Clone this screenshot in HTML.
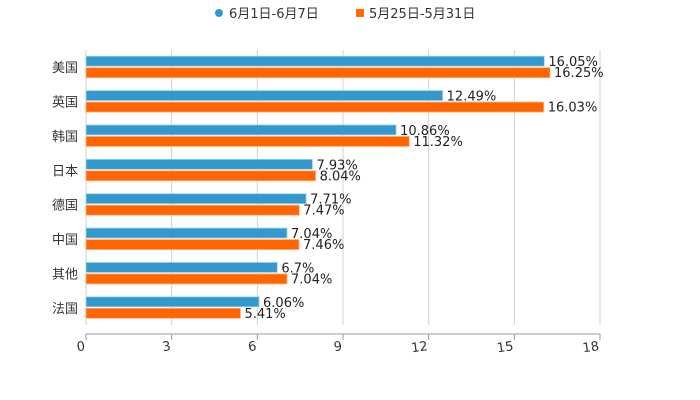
<!DOCTYPE html>
<html><head><meta charset="utf-8">
<style>
html,body{margin:0;padding:0;background:#fff;width:700px;height:400px;overflow:hidden}
svg text{font-family:"DejaVu Sans","Liberation Sans","Noto Sans CJK SC",sans-serif}
</style></head>
<body>
<svg id="chart" width="700" height="400" xmlns="http://www.w3.org/2000/svg">
<g id="legend">
  <g>
    <circle cx="219" cy="13" r="4" fill="#3399cc"/>
    <text x="229" y="18" font-size="13" fill="#333">6月1日-6月7日</text>
  </g>
  <g>
    <rect x="356" y="9" width="8" height="8" rx="1" fill="#ff6600"/>
    <text x="369" y="18" font-size="13" fill="#333">5月25日-5月31日</text>
  </g>
</g>
<g id="grid"></g>
<g id="bars"></g>
<g id="axes"></g>
</svg>
<script>
const categories = ["美国","英国","韩国","日本","德国","中国","其他","法国"];
const seriesJun = [16.05,12.49,10.86,7.93,7.71,7.04,6.7,6.06];
const seriesMay = [16.25,16.03,11.32,8.04,7.47,7.46,7.04,5.41];
const xTicks = [0,3,6,9,12,15,18];

const NS="http://www.w3.org/2000/svg";
const plotX0=86,plotX1=600,xMax=18,plotTop=50,plotBottom=325,axisY=334;
const xs=v=>plotX0+(v/xMax)*(plotX1-plotX0);
const band=(plotBottom-plotTop)/categories.length;
const ys=i=>plotTop+band*i+band/2;
function mk(t,a,p){const e=document.createElementNS(NS,t);for(const k in a)e.setAttribute(k,a[k]);p.appendChild(e);return e;}
const grid=document.getElementById('grid'),bars=document.getElementById('bars'),axes=document.getElementById('axes');
xTicks.forEach(t=>{
  const l=mk('line',{x1:xs(t),x2:xs(t),y1:plotTop,y2:plotBottom,stroke:'#d0d0d0','stroke-width':1},grid);
  
  
  const tk=mk('line',{x1:xs(t),x2:xs(t),y1:axisY,y2:axisY+6,stroke:'#999','stroke-width':1},axes);
  
  
  const tx=mk('text',{x:xs(t)-1,y:axisY+16,'font-size':13,fill:'#333','text-anchor':'end',transform:`rotate(-8 ${xs(t)} ${axisY+12})`},axes);
  tx.textContent=t;
  
  
});
const ax=mk('line',{x1:plotX0,x2:plotX1,y1:axisY,y2:axisY,stroke:'#999','stroke-width':1},axes);


categories.forEach((c,i)=>{
  const cy=ys(i);
  const lb=mk('text',{x:78,y:cy+5,'font-size':13,fill:'#333','text-anchor':'end'},axes);
  lb.textContent=c;
  
  
  const b1=mk('rect',{x:plotX0,y:cy-11,width:xs(seriesJun[i])-plotX0,height:10,fill:'#3399cc',stroke:'#a8d4ea','stroke-width':0.8},bars);
  
  
  const b2=mk('rect',{x:plotX0,y:cy+0.5,width:xs(seriesMay[i])-plotX0,height:10,fill:'#ff6600',stroke:'#ffb080','stroke-width':0.8},bars);
  
  
  const t1=mk('text',{x:xs(seriesJun[i])+4,y:cy-1,'font-size':13,fill:'#222'},bars);
  t1.textContent=seriesJun[i]+'%';
  
  
  const t2=mk('text',{x:xs(seriesMay[i])+4,y:cy+10,'font-size':13,fill:'#222'},bars);
  t2.textContent=seriesMay[i]+'%';
  
  
});
</script>
</body></html>
